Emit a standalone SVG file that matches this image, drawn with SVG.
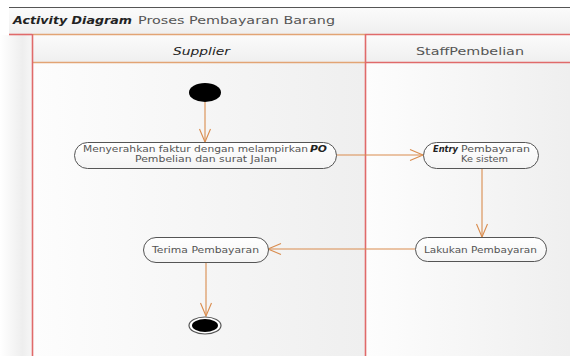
<svg xmlns="http://www.w3.org/2000/svg" width="570" height="356" viewBox="0 0 570 356">
  <defs>
    <linearGradient id="laneBody" x1="0" y1="0" x2="1" y2="0">
      <stop offset="0" stop-color="#fdfdfd"/>
      <stop offset="1" stop-color="#efefef"/>
    </linearGradient>
    <linearGradient id="sideBar" x1="0" y1="0" x2="1" y2="0">
      <stop offset="0" stop-color="#ffffff"/>
      <stop offset="0.7" stop-color="#eeeeee"/>
      <stop offset="1" stop-color="#f6f6f6"/>
    </linearGradient>
    <linearGradient id="band" x1="0" y1="0" x2="0" y2="1">
      <stop offset="0" stop-color="#fbfbfb"/>
      <stop offset="1" stop-color="#efefef"/>
    </linearGradient>
    <linearGradient id="nodeFill" x1="0" y1="0" x2="0" y2="1">
      <stop offset="0" stop-color="#ffffff"/>
      <stop offset="1" stop-color="#f4f4f4"/>
    </linearGradient>
    <marker id="openArrow" markerUnits="userSpaceOnUse" markerWidth="16" markerHeight="16" viewBox="-14 -8 16 16" refX="0" refY="0" orient="auto">
      <path d="M-13,-5.5 L0,0 L-13,5.5" fill="none" stroke="#d98c4e" stroke-width="1.1"/>
    </marker>
  </defs>
  <style>
    text { font-family: "DejaVu Sans", "Liberation Sans", sans-serif; fill: #555; }
    .title { font-size: 10.5px; }
    .strong { font-weight: bold; font-style: italic; fill: #222; }
    .lane { font-size: 10px; }
    .act { font-size: 8.5px; }
    .action { fill: url(#nodeFill); stroke: #555; stroke-width: 1; }
    .flow { fill: none; stroke: #d98c4e; stroke-width: 1.1; marker-end: url(#openArrow); }
    .red { stroke: #e06a6a; stroke-width: 1.6; fill: none; }
    .orange { stroke: #e2a474; stroke-width: 1.6; fill: none; }
  </style>

  <!-- background -->
  <rect x="0" y="0" width="570" height="356" fill="#ffffff"/>
  <rect x="9" y="8" width="561" height="26" fill="url(#band)"/>
  <rect x="0" y="35" width="32" height="321" fill="url(#sideBar)"/>
  <rect x="32" y="35" width="333" height="27" fill="url(#band)"/>
  <rect x="365" y="35" width="205" height="27" fill="url(#band)"/>
  <rect x="32" y="63" width="333" height="293" fill="url(#laneBody)"/>
  <rect x="366" y="63" width="204" height="293" fill="url(#laneBody)"/>

  <!-- frame and title -->
  <line x1="9" y1="7.5" x2="570" y2="7.5" stroke="#555" stroke-width="1"/>
  <text class="title" x="13" y="24"><tspan class="strong" textLength="119" lengthAdjust="spacingAndGlyphs">Activity Diagram</tspan></text>
  <text class="title" x="138" y="24" textLength="197" lengthAdjust="spacingAndGlyphs">Proses Pembayaran Barang</text>

  <!-- swimlanes -->
  <g id="lane-supplier">
    <line class="orange" x1="32" y1="34.5" x2="365" y2="34.5"/>
    <line class="orange" x1="32" y1="62.5" x2="365" y2="62.5"/>
    <text class="lane" x="173" y="55" textLength="57" lengthAdjust="spacingAndGlyphs" font-style="italic" fill="#222" style="fill:#222">Supplier</text>
  </g>
  <g id="lane-staff">
    <line class="red" x1="365" y1="34.5" x2="570" y2="34.5"/>
    <line class="red" x1="365" y1="62.5" x2="570" y2="62.5"/>
    <text class="lane" x="416" y="55" textLength="108" lengthAdjust="spacingAndGlyphs">StaffPembelian</text>
  </g>
  <line class="red" x1="9" y1="34.5" x2="32" y2="34.5"/>
  <line class="red" x1="32.5" y1="34" x2="32.5" y2="356"/>
  <line class="red" x1="365.5" y1="34" x2="365.5" y2="356"/>

  <!-- connectors -->
  <g id="connectors">
    <line class="flow" x1="205" y1="102" x2="205" y2="142"/>
    <line class="flow" x1="336" y1="155" x2="423" y2="155"/>
    <line class="flow" x1="482" y1="168" x2="482" y2="237"/>
    <line class="flow" x1="415" y1="249" x2="268" y2="249"/>
    <line class="flow" x1="206" y1="262" x2="206" y2="316"/>
  </g>

  <!-- nodes -->
  <g id="start">
    <ellipse cx="205" cy="92.5" rx="16" ry="9.5" fill="#000"/>
  </g>
  <g id="menyerahkan-faktur">
    <rect class="action" x="74.5" y="142.5" width="262" height="26" rx="13" ry="13"/>
    <text class="act" x="83" y="151.5" textLength="225" lengthAdjust="spacingAndGlyphs">Menyerahkan faktur dengan melampirkan</text>
    <text class="act strong" x="310" y="151.5" textLength="17" lengthAdjust="spacingAndGlyphs">PO</text>
    <text class="act" x="135" y="161.5" textLength="142" lengthAdjust="spacingAndGlyphs">Pembelian dan surat Jalan</text>
  </g>
  <g id="entry-pembayaran">
    <rect class="action" x="423.5" y="142.5" width="115" height="26" rx="13" ry="13"/>
    <text class="act strong" x="433" y="152" textLength="25" lengthAdjust="spacingAndGlyphs">Entry</text>
    <text class="act" x="461" y="152" textLength="69" lengthAdjust="spacingAndGlyphs">Pembayaran</text>
    <text class="act" x="461" y="161.5" textLength="47" lengthAdjust="spacingAndGlyphs">Ke sistem</text>
  </g>
  <g id="lakukan-pembayaran">
    <rect class="action" x="415.5" y="237.5" width="131" height="24" rx="12" ry="12"/>
    <text class="act" x="424" y="252.5" textLength="113" lengthAdjust="spacingAndGlyphs">Lakukan Pembayaran</text>
  </g>
  <g id="terima-pembayaran">
    <rect class="action" x="143.5" y="237.5" width="125" height="25" rx="12.5" ry="12.5"/>
    <text class="act" x="152" y="252.5" textLength="107" lengthAdjust="spacingAndGlyphs">Terima Pembayaran</text>
  </g>
  <g id="end">
    <ellipse cx="205" cy="325.5" rx="16" ry="8.5" fill="#fff" stroke="#555" stroke-width="1.2"/>
    <ellipse cx="205" cy="325.5" rx="13" ry="6.5" fill="#000"/>
  </g>
</svg>
